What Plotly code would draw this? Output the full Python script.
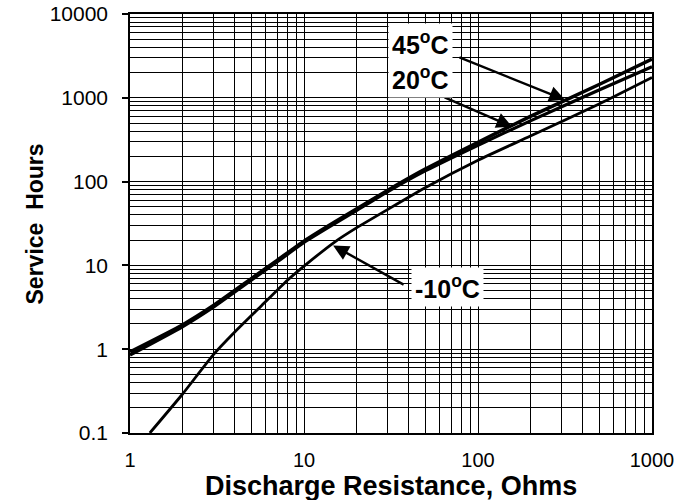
import numpy as np
import plotly.graph_objects as go

# Discharge resistance (Ohms) and service hours per temperature curve
res_45 = [1, 2, 3, 5, 7, 10, 15, 20, 30, 50, 100, 200, 500, 1000]
hrs_45 = [0.93, 1.95, 3.3, 7.0, 11.5, 19.5, 33, 47, 78, 142, 295, 600, 1450, 2900]

res_20 = [1, 2, 3, 5, 7, 10, 15, 20, 30, 50, 100, 200, 500, 1000]
hrs_20 = [0.85, 1.85, 3.15, 6.7, 11, 18.8, 31.5, 45, 75, 135, 272, 530, 1250, 2350]

res_m10 = [1.3, 2, 3, 4, 5.7, 8, 10, 15, 20, 30, 50, 100, 200, 500, 1000]
hrs_m10 = [0.1, 0.29, 0.85, 1.6, 3.3, 6.6, 9.8, 19, 28, 46, 85, 180, 350, 850, 1750]

x_ticks = [1, 10, 100, 1000]
x_ticktext = ["1", "10", "100", "1000"]
y_ticks = [0.1, 1, 10, 100, 1000, 10000]
y_ticktext = ["0.1", "1", "10", "100", "1000", "10000"]

FONT = "Liberation Sans, Arial, sans-serif"

x_minor = [d * 10 ** k for k in range(0, 3) for d in range(2, 10)]
y_minor = [d * 10.0 ** k for k in range(-1, 4) for d in range(2, 10)]

fig = go.Figure()
for xs, ys, w in [(res_m10, hrs_m10, 2.8), (res_20, hrs_20, 3.2), (res_45, hrs_45, 3.5)]:
    fig.add_trace(go.Scatter(x=xs, y=ys, mode="lines",
                             line=dict(color="black", width=w, shape="spline", smoothing=0.5),
                             showlegend=False, hoverinfo="skip"))

grid_col = "#000000"
fig.update_xaxes(
    type="log", range=[0, 3], automargin=False,
    tickmode="array", tickvals=x_ticks, ticktext=x_ticktext,
    ticks="", ticklabelstandoff=8, ticklabeloverflow="allow",
    tickfont=dict(family=FONT, size=20, color="black"),
    showgrid=True, gridcolor=grid_col, gridwidth=1,
    minor=dict(tickmode="array", tickvals=x_minor, showgrid=True,
               gridcolor=grid_col, gridwidth=1, ticks=""),
    showline=True, linecolor="black", linewidth=1.5, mirror=True,
    zeroline=False,
)
fig.update_yaxes(
    type="log", range=[-1, 4], automargin=False,
    tickmode="array", tickvals=y_ticks, ticktext=y_ticktext,
    ticks="outside", ticklen=6, tickcolor="black", tickwidth=1.5,
    ticklabelstandoff=10, ticklabeloverflow="allow",
    tickfont=dict(family=FONT, size=21, color="black"),
    showgrid=True, gridcolor=grid_col, gridwidth=1,
    minor=dict(tickmode="array", tickvals=y_minor, showgrid=True,
               gridcolor=grid_col, gridwidth=1, ticks=""),
    showline=True, linecolor="black", linewidth=1.5, mirror=True,
    zeroline=False,
)

# axis titles
fig.add_annotation(x=0.5, y=-0.126, xref="paper", yref="paper",
                   text="<b>Discharge Resistance, Ohms</b>", showarrow=False,
                   font=dict(family=FONT, size=27, color="black"),
                   xanchor="center", yanchor="middle")
fig.add_annotation(x=-0.182, y=0.5, xref="paper", yref="paper",
                   text="<b>Service  Hours</b>", showarrow=False, textangle=-90,
                   font=dict(family=FONT, size=23, color="black"),
                   xanchor="center", yanchor="middle")

lbl_font = dict(family=FONT, size=25, color="black")
# arrows (head in data coords, tail as pixel offset)
arrows = [
    (316, 946, -107, -43),
    (157, 452, -69, -30),
    (14.7, 17.3, 72, 40),
]
for hx, hy, ax, ay in arrows:
    fig.add_annotation(x=np.log10(hx), y=np.log10(hy), xref="x", yref="y",
                       text="", showarrow=True, ax=ax, ay=ay,
                       arrowhead=2, arrowsize=1.3, arrowwidth=2.4, arrowcolor="black")

labels = [
    ("<b>45<sup>o</sup>C</b>", 0.5556, 0.9308),
    ("<b>20<sup>o</sup>C</b>", 0.5556, 0.8473),
    ("<b>-10<sup>o</sup>C</b>", 0.609, 0.3484),
]
for t, xp, yp in labels:
    fig.add_annotation(x=xp, y=yp, xref="paper", yref="paper", text=t,
                       showarrow=False, font=lbl_font, bgcolor="white",
                       borderpad=3, xanchor="center", yanchor="middle")

fig.update_layout(
    width=676, height=500,
    margin=dict(l=130, r=24, t=14, b=67),
    paper_bgcolor="white", plot_bgcolor="white",
    font=dict(family=FONT, color="black"),
)

fig.write_html("out.html", config={"displayModeBar": False},
               post_script="document.body.style.margin='0px';document.body.style.overflow='hidden';")
